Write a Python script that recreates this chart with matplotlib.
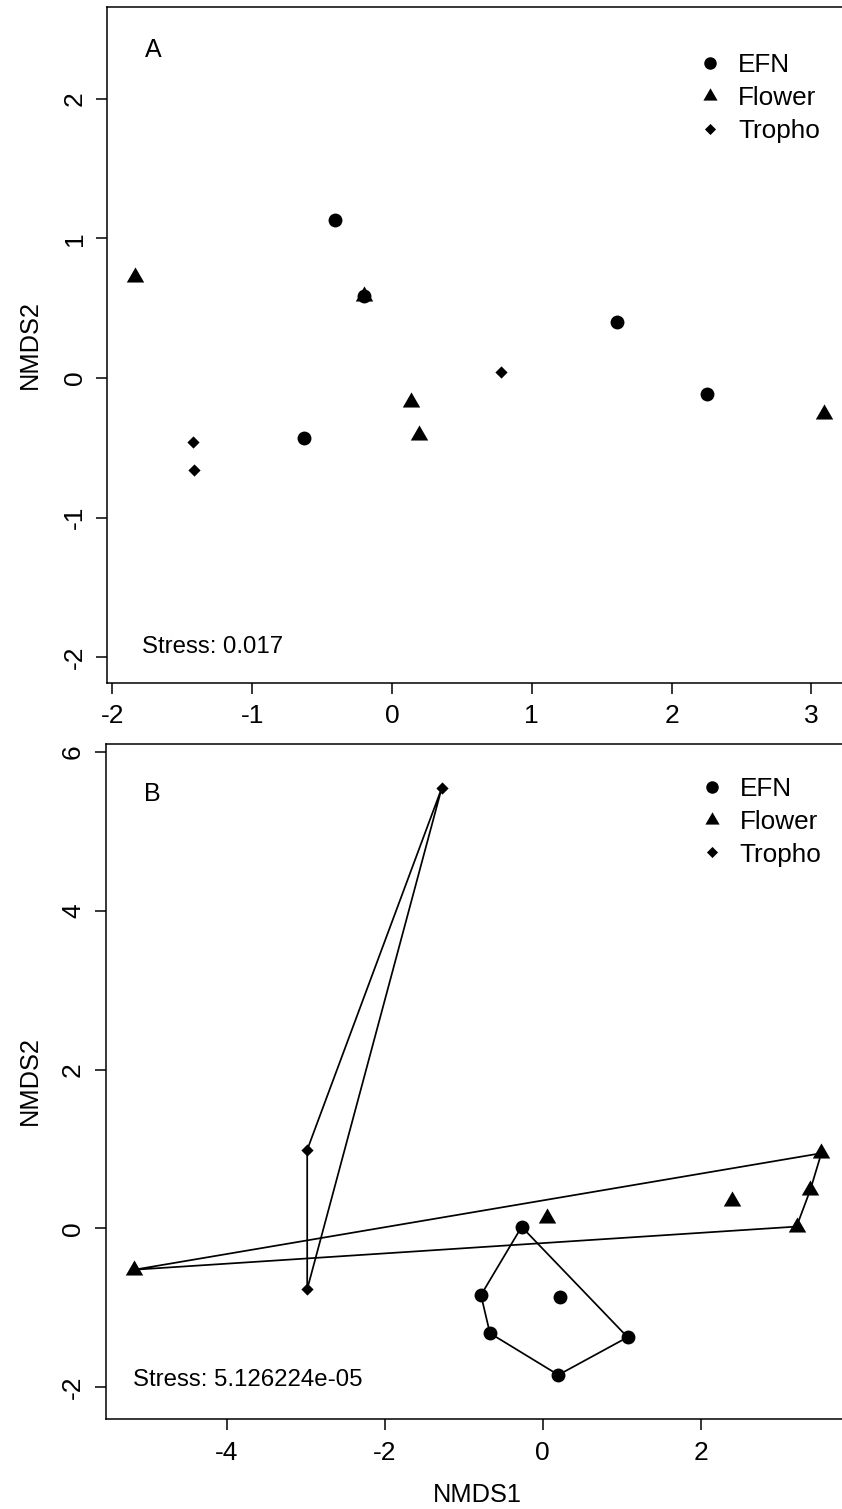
import numpy as np
import matplotlib
matplotlib.use('Agg')
import matplotlib.pyplot as plt
from matplotlib.lines import Line2D

plt.rcParams['font.family'] = ['Liberation Sans', 'DejaVu Sans']

# NMDS scores
# panel A
efn_x_a = [-0.41, 1.61, 2.25, -0.63, -0.20]
efn_y_a = [1.135, 0.40, -0.115, -0.43, 0.585]
flower_x_a = [-1.84, -0.20, 0.135, 0.19, 3.09]
flower_y_a = [0.72, 0.59, -0.17, -0.41, -0.26]
tropho_x_a = [0.78, -1.42, -1.415]
tropho_y_a = [0.043, -0.458, -0.659]

# panel B
efn_x_b = [-0.265, -0.78, 0.22, -0.666, 1.077, 0.20]
efn_y_b = [0.02, -0.84, -0.86, -1.32, -1.37, -1.845]
flower_x_b = [-5.17, 0.06, 2.40, 3.216, 3.39, 3.53]
flower_y_b = [-0.52, 0.128, 0.35, 0.023, 0.485, 0.947]
tropho_x_b = [-1.277, -2.98, -2.98]
tropho_y_b = [5.544, 0.989, -0.766]

groups = ['EFN', 'Flower', 'Tropho']
stress_a = 'Stress: 0.017'
stress_b = 'Stress: 5.126224e-05'

# R style markers (pch 16, 17, 18)
tri = [(-1, -0.5774), (1, -0.5774), (0, 1.1547)]
dia = [(0, 1), (1, 0), (0, -1), (-1, 0)]
mk = {'EFN': ('o', 10.0), 'Flower': (tri, 14.5), 'Tropho': (dia, 8.8)}
mk_leg = {'EFN': ('o', 9.0), 'Flower': (tri, 11.8), 'Tropho': (dia, 8.0)}


def hull(xs, ys):
    pts = sorted(set(zip(xs, ys)))
    if len(pts) < 3:
        return pts

    def cross(o, a, b):
        return (a[0] - o[0]) * (b[1] - o[1]) - (a[1] - o[1]) * (b[0] - o[0])
    lower, upper = [], []
    for p in pts:
        while len(lower) >= 2 and cross(lower[-2], lower[-1], p) <= 0:
            lower.pop()
        lower.append(p)
    for p in reversed(pts):
        while len(upper) >= 2 and cross(upper[-2], upper[-1], p) <= 0:
            upper.pop()
        upper.append(p)
    return lower[:-1] + upper[:-1]


W, H = 842, 1509
fig = plt.figure(figsize=(W / 100, H / 100), dpi=100)
fig.patch.set_facecolor('white')


def px_axes(left, top, right, bottom):
    return fig.add_axes([left / W, 1 - bottom / H, (right - left) / W, (bottom - top) / H])


def style(ax, xt, yt):
    for s in ax.spines.values():
        s.set_linewidth(1.1)
    ax.set_xticks(xt, [str(v) for v in xt], fontsize=19)
    ax.set_yticks(yt, [str(v) for v in yt], fontsize=19, rotation=90, va='center')
    ax.tick_params(axis='both', direction='out', length=8, width=1.1, color='black')
    ax.tick_params(axis='x', pad=7.6)
    ax.tick_params(axis='y', pad=7.0)


def legend(ax, xpx, ypx):
    handles = [Line2D([], [], ls='none', marker=mk_leg[g][0], ms=mk_leg[g][1],
                      color='black', markeredgewidth=0) for g in groups]
    ax.legend(handles, groups, loc='upper left',
              bbox_to_anchor=(xpx / W, 1 - ypx / H), bbox_transform=fig.transFigure,
              frameon=False, fontsize=18.8, borderpad=0, borderaxespad=0,
              handlelength=1.0, handletextpad=0.58, labelspacing=0.34)


# ---------- panel A ----------
axA = px_axes(107.4, 7.3, 852, 682.5)
axA.set_xlim(-2.035, 3.29)
axA.set_ylim(-2.181, 2.655)
for g, xs, ys in [('EFN', efn_x_a, efn_y_a), ('Flower', flower_x_a, flower_y_a),
                  ('Tropho', tropho_x_a, tropho_y_a)]:
    axA.plot(xs, ys, ls='none', marker=mk[g][0], ms=mk[g][1], color='black',
             markeredgewidth=0, zorder=3)
style(axA, [-2, -1, 0, 1, 2, 3], [-2, -1, 0, 1, 2])
axA.text(-1.767, 2.298, 'A', fontsize=18, ha='left', va='baseline')
axA.text(-1.788, -1.972, stress_a, fontsize=17.3, ha='left', va='baseline')
legend(axA, 697.0, 53.5)

# ---------- panel B ----------
axB = px_axes(105.8, 744, 849, 1419)
axB.set_xlim(-5.53, 3.88)
axB.set_ylim(-2.40, 6.10)
for g, xs, ys in [('EFN', efn_x_b, efn_y_b), ('Flower', flower_x_b, flower_y_b),
                  ('Tropho', tropho_x_b, tropho_y_b)]:
    h = hull(xs, ys)
    hx = [p[0] for p in h] + [h[0][0]]
    hy = [p[1] for p in h] + [h[0][1]]
    axB.plot(hx, hy, color='black', lw=1.25, zorder=2)
    axB.plot(xs, ys, ls='none', marker=mk[g][0], ms=mk[g][1], color='black',
             markeredgewidth=0, zorder=3)
style(axB, [-4, -2, 0, 2], [-2, 0, 2, 4, 6])
axB.text(-5.045, 5.38, 'B', fontsize=18, ha='left', va='baseline')
axB.text(-5.185, -1.98, stress_b, fontsize=17.3, ha='left', va='baseline')
legend(axB, 698.6, 776.8)

# axis titles
fig.text(30 / W, 1 - 345 / H, 'NMDS2', rotation=90, ha='center', va='center', fontsize=18.3)
fig.text(30 / W, 1 - 1081 / H, 'NMDS2', rotation=90, ha='center', va='center', fontsize=18.3)
fig.text(477 / W, 1 - 1495.5 / H, 'NMDS1', ha='center', va='center', fontsize=18.3)

fig.savefig('out.png', dpi=100)
